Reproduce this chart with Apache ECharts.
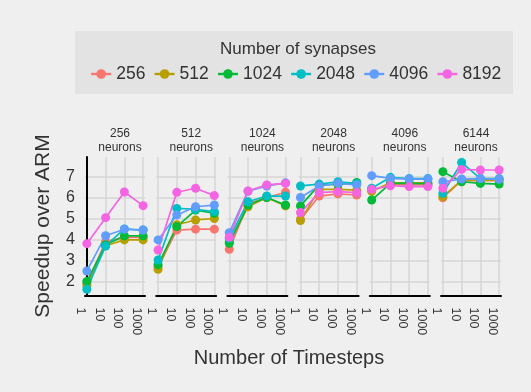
<!DOCTYPE html>
<html>
<head>
<meta charset="utf-8">
<script src="https://cdn.jsdelivr.net/npm/echarts@6/dist/echarts.min.js"></script>
<style>
  html, body { margin: 0; padding: 0; background: #EFEFEF; }
  #chart { width: 531px; height: 392px; }
</style>
</head>
<body>
<div id="chart"></div>
<script>
// Facet categories
const timesteps = ['1', '10', '100', '1000'];
const neuronCounts = ['256', '512', '1024', '2048', '4096', '6144'];
const synapseCounts = ['256', '512', '1024', '2048', '4096', '8192'];
const yTicks = [2, 3, 4, 5, 6, 7];

// Speedup per facet: one row per synapse count (256 ... 8192), one value per timestep
const neurons256 = [
  [1.90, 3.90, 4.10, 4.10],
  [1.80, 3.70, 3.98, 3.98],
  [2.00, 3.75, 4.17, 4.17],
  [1.63, 3.69, 4.50, 4.45],
  [2.50, 4.18, 4.49, 4.45],
  [3.80, 5.04, 6.26, 5.61]
];
const neurons512 = [
  [2.70, 4.45, 4.49, 4.49],
  [2.58, 4.70, 4.93, 5.00],
  [2.80, 4.61, 5.40, 5.25],
  [3.02, 5.48, 5.44, 5.33],
  [3.98, 5.17, 5.56, 5.64],
  [3.50, 6.25, 6.44, 6.09]
];
const neurons1024 = [
  [3.53, 5.70, 6.00, 6.25],
  [3.90, 5.56, 6.00, 5.60],
  [3.82, 5.64, 6.00, 5.64],
  [4.05, 5.80, 6.07, 6.07],
  [4.32, 6.30, 6.55, 6.70],
  [4.10, 6.31, 6.60, 6.67]
];
const neurons2048 = [
  [4.95, 6.07, 6.17, 6.12],
  [4.90, 6.39, 6.39, 6.35],
  [5.60, 6.60, 6.62, 6.72],
  [6.55, 6.64, 6.75, 6.67],
  [6.00, 6.55, 6.67, 6.60],
  [5.28, 6.23, 6.28, 6.23]
];
const neurons4096 = [
  [6.35, 6.60, 6.60, 6.60],
  [6.30, 6.70, 6.70, 6.70],
  [5.88, 6.67, 6.67, 6.66],
  [6.44, 6.96, 6.90, 6.90],
  [7.04, 6.91, 6.88, 6.88],
  [6.39, 6.56, 6.52, 6.52]
];
const neurons6144 = [
  [5.99, 6.80, 6.80, 6.80],
  [6.04, 6.83, 6.83, 6.83],
  [7.23, 6.75, 6.67, 6.64],
  [6.20, 7.67, 6.90, 6.90],
  [6.75, 6.88, 6.90, 6.87],
  [6.44, 7.34, 7.31, 7.31]
];
const facets = [neurons256, neurons512, neurons1024, neurons2048, neurons4096, neurons6144];

const palette = ['#F8766D', '#B79F00', '#00BA38', '#00BFC4', '#619CFF', '#F564E3'];
const textColor = '#333333';
const gridColor = '#D6D6D6';

const panelLeft0 = 85;
const panelStep = 71.2;
const panelWidth = 60;
const panelTop = 157;
const panelHeight = 138.5;

const grids = [], xAxes = [], yAxes = [], series = [], titles = [];

neuronCounts.forEach((n, p) => {
  const left = panelLeft0 + p * panelStep;
  grids.push({ left: left, top: panelTop, width: panelWidth, height: panelHeight, containLabel: false });

  xAxes.push({
    type: 'value', gridIndex: p, min: -0.1, max: 3.1,
    axisLine: { show: true, onZero: false, lineStyle: { color: '#000', width: 2 } },
    axisTick: { show: false, customValues: [0, 1, 2, 3] },
    axisLabel: {
      customValues: [0, 1, 2, 3],
      formatter: v => timesteps[Math.round(v)],
      rotate: -90, verticalAlign: 'top', margin: 12,
      fontSize: 12.5, color: textColor, fontFamily: 'Liberation Sans'
    },
    splitLine: { show: true, lineStyle: { color: gridColor, width: 1.5 } }
  });

  yAxes.push({
    type: 'value', gridIndex: p, min: 1.33, max: 7.93,
    axisLine: { show: p === 0, lineStyle: { color: '#000', width: 2 } },
    axisTick: { show: false, customValues: yTicks },
    axisLabel: {
      show: p === 0, customValues: yTicks, margin: 10,
      fontSize: 16, color: textColor, fontFamily: 'Liberation Sans'
    },
    splitLine: { show: true, lineStyle: { color: gridColor, width: 1.5 } }
  });

  titles.push({
    text: n + '\nneurons',
    left: left + panelWidth / 2, top: 122, textAlign: 'center',
    textStyle: { fontSize: 12, lineHeight: 14, fontWeight: 'normal', color: textColor, fontFamily: 'Liberation Sans' }
  });

  facets[p].forEach((row, s) => {
    series.push({
      type: 'line', name: synapseCounts[s],
      xAxisIndex: p, yAxisIndex: p,
      data: row.map((v, i) => [i, v]),
      symbol: 'circle', symbolSize: 9,
      lineStyle: { width: 1.7, color: palette[s] },
      itemStyle: { color: palette[s] },
      emphasis: { disabled: true },
      animation: false
    });
  });
});

titles.push({
  text: 'Number of synapses', left: 293, top: 36, textAlign: 'center',
  textStyle: { fontSize: 17, fontWeight: 'normal', color: textColor, fontFamily: 'Liberation Sans' }
});
titles.push({
  text: 'Number of Timesteps', left: 284, top: 343, textAlign: 'center',
  textStyle: { fontSize: 20, fontWeight: 'normal', color: textColor, fontFamily: 'Liberation Sans' }
});

const chart = echarts.init(document.getElementById('chart'), null, { renderer: 'canvas' });
chart.setOption({
  backgroundColor: '#EFEFEF',
  animation: false,
  color: palette,
  title: titles,
  graphic: [
    { type: 'rect', shape: { x: 75, y: 31, width: 438, height: 63 }, style: { fill: '#E3E3E3' }, z: -10 },
    {
      type: 'text', x: 43, y: 226, rotation: Math.PI / 2,
      style: { text: 'Speedup over ARM', fontSize: 21, fill: textColor, fontFamily: 'Liberation Sans', align: 'center', verticalAlign: 'middle' }
    }
  ],
  legend: {
    data: synapseCounts, left: 85, top: 60,
    itemWidth: 20, itemHeight: 12, itemGap: 8,
    lineStyle: { width: 2.4 },
    textStyle: { fontSize: 17.5, color: textColor, fontFamily: 'Liberation Sans' }
  },
  grid: grids,
  xAxis: xAxes,
  yAxis: yAxes,
  series: series
});
</script>
</body>
</html>
